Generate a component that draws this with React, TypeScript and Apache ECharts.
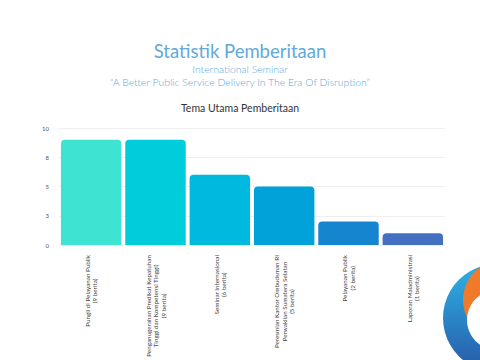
import React, { useEffect, useRef } from "react";
import * as echarts from "echarts";

const categories = [
  "Pungli di Pelayanan Publik\n(9 berita)",
  "Penganugerahan Predikat Kepatuhan\nTinggi dan Kompetensi Tinggi)\n(9 berita)",
  "Seminar Internasional\n(6 berita)",
  "Peresmian Kantor Ombudsman RI\nPerwakilan Sumatera Selatan\n(5 berita)",
  "Pelayanan Publik\n(2 berita)",
  "Laporan Maladministrasi\n(1 berita)",
];
const values = [9, 9, 6, 5, 2, 1];
const barColors = ["#3fe3d2", "#00cddb", "#00b9de", "#00a2d9", "#1585d0", "#4470c2"];

const LABEL_FONT_SIZE = 6.3;

export default function App() {
  const ref = useRef<HTMLDivElement>(null);
  useEffect(() => {
    if (!ref.current) return;
    const chart = echarts.init(ref.current, null, { renderer: "svg" });
    chart.setOption({
      animation: false,
      backgroundColor: "#ffffff",
      title: [
        {
          text: "Statistik Pemberitaan",
          left: "center",
          top: 36,
          textStyle: { fontFamily: "Lato", fontWeight: 400, fontSize: 18.5, color: "#62a9da" },
        },
        {
          text: "International Seminar",
          left: "center",
          top: 59,
          textStyle: { fontFamily: "Lato", fontWeight: 300, fontSize: 10.4, color: "#5ea7da" },
        },
        {
          text: "\u201cA Better Public Service Delivery In The Era Of Disruption\u201d",
          left: "center",
          top: 72,
          textStyle: { fontFamily: "Lato", fontWeight: 300, fontSize: 10.4, color: "#5ea7da" },
        },
        {
          text: "Tema Utama Pemberitaan",
          left: "center",
          top: 97,
          textStyle: { fontFamily: "Lato", fontWeight: 400, fontSize: 10.5, color: "#333333" },
        },
      ],
      grid: { left: 59, right: 35, top: 128, bottom: 115, containLabel: false, outerBoundsMode: "none" },
      xAxis: {
        type: "category",
        data: categories,
        axisLine: { show: false },
        axisTick: { show: false },
        axisLabel: {
          interval: 0,
          rotate: 90,
          margin: 10,
          align: "right",
          formatter: (v: string) =>
            v
              .split("\n")
              .map((l) => `{c|${l}}`)
              .join("\n"),
          rich: {
            c: {
              align: "center",
              fontSize: LABEL_FONT_SIZE,
              lineHeight: 7.5,
              color: "#444444",
              fontFamily: "Lato",
            },
          },
        },
      },
      yAxis: {
        type: "value",
        min: 0,
        max: 10,
        interval: 2.5,
        axisLine: { show: false },
        axisTick: { show: false },
        splitLine: { lineStyle: { color: "#efefef", width: 1 } },
        axisLabel: {
          fontSize: 6,
          color: "#555555",
          margin: 10,
          fontFamily: "Lato",
          formatter: (v: number) => String(Math.round(v)),
        },
      },
      series: [
        {
          type: "bar",
          data: values.map((v, i) => ({ value: v, itemStyle: { color: barColors[i] } })),
          barCategoryGap: "6%",
          itemStyle: { borderRadius: [4, 4, 0, 0] },
        },
      ],
      graphic: [
        {
          type: "circle",
          shape: { cx: 497, cy: 318, r: 54 },
          style: {
            fill: new echarts.graphic.LinearGradient(0, 0, 0, 1, [
              { offset: 0, color: "#2cb3e6" },
              { offset: 1, color: "#2858a8" },
            ]),
          },
          silent: true,
        },
        {
          type: "circle",
          shape: { cx: 503, cy: 300, r: 40 },
          style: { fill: "#ee7a2a" },
          silent: true,
        },
        {
          type: "circle",
          shape: { cx: 497, cy: 320, r: 30 },
          style: { fill: "#ffffff" },
          silent: true,
        },
      ],
    });
    return () => chart.dispose();
  }, []);
  return (
    <div
      ref={ref}
      style={{ position: "absolute", left: 0, top: 0, width: 480, height: 360 }}
    />
  );
}
